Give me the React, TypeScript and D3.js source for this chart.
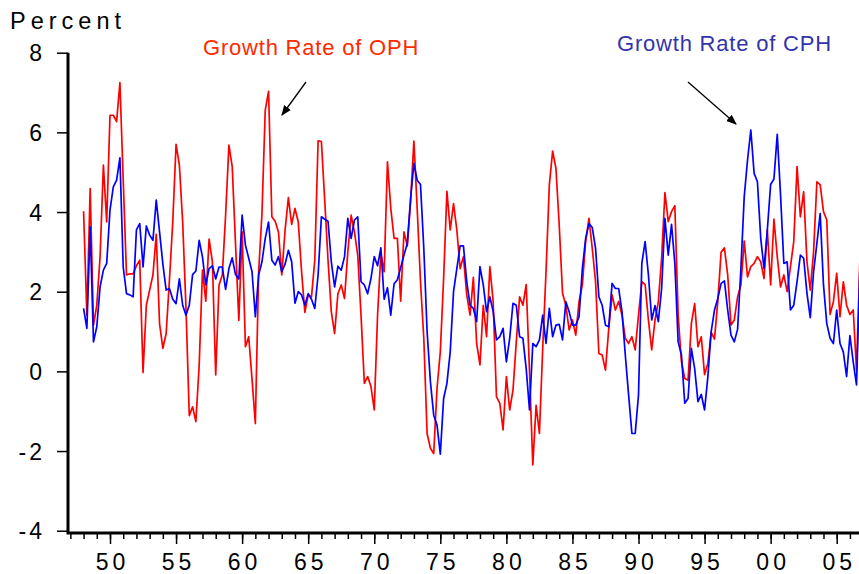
import React, { useEffect, useRef } from 'react';
import * as d3 from 'd3';

// quarterly growth rates, 1948Q1 onwards (percent)
const startYear = 1948;

const ophGrowth = [
  4.02, 1.41, 4.59, 1.16, 1.66, 2.88, 5.18, 3.75, 6.43, 6.43, 6.27, 7.25,
  4.8, 2.42, 2.45, 2.45, 2.65, 2.79, -0.03, 1.66, 2.04, 2.42, 3.44, 1.2,
  0.58, 0.95, 2.3, 3.75, 5.7, 5.18, 3.75, 1.6, -1.11, -0.89, -1.26, 0.16,
  2.54, 1.76, 3.32, 2.75, -0.09, 2.17, 2.42, 3.92, 5.68, 5.14, 3.2, 1.28,
  3.5, 0.62, 0.87, -0.2, -1.31, 2.5, 3.95, 6.56, 7.03, 3.88, 3.77, 3.5,
  2.42, 3.54, 4.36, 3.69, 4.09, 3.75, 2.5, 1.48, 1.92, 1.87, 2.8, 5.79,
  5.77, 4.3, 2.8, 1.5, 0.95, 1.95, 2.17, 1.83, 3.0, 3.92, 3.5, 2.92,
  1.4, -0.3, -0.13, -0.38, -0.97, 1.41, 2.96, 2.5, 5.26, 4.1, 3.34, 3.34,
  1.76, 3.5, 3.15, 4.26, 5.78, 4.09, 2.25, 0.83, -1.56, -1.93, -2.06, -0.43,
  0.49, 2.33, 4.52, 3.55, 4.21, 3.55, 2.58, 2.88, 1.92, 1.41, 2.36, 0.7,
  0.16, 1.66, 0.87, 2.63, 1.75, -0.64, -0.8, -1.47, -0.13, -0.97, -0.47, 0.74,
  1.87, 1.66, 2.18, 0.0, -2.35, -0.85, -1.56, 0.58, 2.5, 4.68, 5.53, 5.1,
  3.67, 1.96, 1.66, 1.04, 1.29, 0.91, 1.75, 2.17, 3.26, 3.84, 3.09, 2.25,
  0.45, 0.41, 0.03, 1.08, 1.92, 1.54, 1.76, 1.41, 0.83, 0.7, 0.87, 0.54,
  1.41, 2.25, 2.18, 1.29, 0.54, 1.29, 1.75, 2.84, 4.49, 3.76, 4.01, 4.16,
  1.41, 0.24, -0.18, -0.22, 1.2, 1.7, 0.62, 0.87, -0.08, 0.2, 0.98, 0.81,
  1.75, 2.99, 3.1, 2.42, 1.16, 1.29, 1.87, 2.17, 3.27, 2.37, 2.63, 2.71,
  2.88, 2.75, 2.33, 3.55, 2.17, 3.82, 2.88, 2.12, 2.42, 2.0, 2.63, 3.26,
  5.14, 3.88, 4.51, 2.75, 2.04, 3.0, 4.76, 4.68, 4.01, 3.8, 1.43, 1.75,
  2.46, 1.37, 2.25, 1.66, 1.43, 1.54, 0.03, 2.75
];

const cphGrowth = [
  1.58, 1.08, 3.63, 0.74, 1.12, 2.12, 2.54, 2.71, 4.05, 4.63, 4.8, 5.36,
  2.62, 1.95, 1.92, 1.87, 3.55, 3.71, 2.62, 3.65, 3.42, 3.29, 4.3, 3.5,
  2.7, 2.04, 2.08, 1.81, 1.7, 2.32, 1.66, 1.41, 1.66, 2.43, 2.52, 3.29,
  2.87, 2.17, 2.58, 2.65, 2.32, 2.62, 2.62, 2.06, 2.58, 2.85, 2.43, 2.32,
  3.92, 3.17, 2.84, 2.5, 1.37, 2.42, 2.75, 3.34, 3.75, 2.79, 2.67, 2.88,
  2.5, 2.69, 3.04, 2.75, 1.71, 2.0, 1.92, 1.66, 1.95, 1.81, 1.58, 2.42,
  3.88, 3.82, 3.77, 2.75, 2.12, 2.64, 2.54, 2.88, 3.84, 3.34, 3.8, 3.88,
  2.25, 2.17, 1.95, 2.33, 2.88, 2.65, 3.1, 1.81, 2.1, 1.41, 2.2, 2.3,
  2.6, 2.92, 3.21, 4.34, 5.22, 4.8, 4.69, 3.09, 1.0, -0.26, -1.1, -1.35,
  -2.08, -0.68, -0.3, 0.49, 2.0, 2.58, 3.15, 3.15, 2.25, 1.66, 1.58, 1.25,
  2.63, 2.17, 1.5, 1.87, 1.5, 0.79, 0.87, 1.08, 0.24, 0.83, 1.71, 1.66,
  0.87, 0.83, 0.07, -0.97, 0.7, 0.62, 0.79, 1.41, 0.7, 1.58, 0.87, 1.16,
  1.18, 0.79, 1.75, 1.5, 1.16, 1.16, 1.37, 2.58, 3.34, 3.71, 3.61, 3.09,
  1.87, 1.66, 1.16, 1.12, 2.21, 2.08, 2.08, 1.5, 0.41, -0.59, -1.56, -1.56,
  -0.59, 2.71, 3.26, 2.42, 1.29, 1.65, 1.25, 2.08, 3.84, 2.92, 3.69, 2.71,
  0.74, 0.41, -0.8, -0.68, 0.58, 0.07, -0.76, -0.58, -0.97, -0.13, 1.0, 1.54,
  1.83, 2.21, 2.27, 1.54, 0.91, 0.74, 1.06, 2.58, 4.38, 5.3, 6.06, 4.97,
  4.76, 3.34, 2.58, 3.55, 4.69, 4.83, 5.95, 4.43, 2.71, 2.75, 1.54, 1.66,
  2.25, 2.92, 2.84, 1.96, 1.35, 2.5, 3.21, 3.96, 2.17, 1.2, 0.83, 0.7,
  1.54, 0.7, 0.49, -0.13, 0.9, 0.24, -0.34, 2.5
];

const yTicks = [-4, -2, 0, 2, 4, 6, 8];
const xMajorTicks = [1950, 1955, 1960, 1965, 1970, 1975, 1980, 1985, 1990, 1995, 2000, 2005];
const xMinorTicks = d3.range(1947, 2007);

const font = '"Liberation Sans", Arial, Helvetica, sans-serif';

export default function App() {
  const ref = useRef<SVGSVGElement>(null);

  useEffect(() => {
    const width = 859;
    const left = 68;
    const bottom = 533;

    const svg = d3.select(ref.current);
    svg.selectAll('*').remove();

    const x = d3.scaleLinear().domain([1950, 2005]).range([110, 836.7]);
    const y = d3.scaleLinear().domain([-4, 8]).range([530.7, 52.7]);

    svg.append('defs').append('clipPath').attr('id', 'plot-clip')
      .append('rect')
      .attr('x', left).attr('y', 0)
      .attr('width', width - left).attr('height', bottom);

    const line = d3.line<number>()
      .x((d, i) => x(startYear + i / 4))
      .y(d => y(d));

    const plot = svg.append('g').attr('clip-path', 'url(#plot-clip)');

    plot.append('path')
      .attr('d', line(ophGrowth))
      .attr('fill', 'none')
      .attr('stroke', '#ff0000')
      .attr('stroke-width', 1.7)
      .attr('stroke-linejoin', 'round');

    plot.append('path')
      .attr('d', line(cphGrowth))
      .attr('fill', 'none')
      .attr('stroke', '#0000ff')
      .attr('stroke-width', 1.7)
      .attr('stroke-linejoin', 'round');

    // y axis
    const yAxis = svg.append('g')
      .attr('transform', `translate(${left},0)`)
      .call(d3.axisLeft(y).tickValues(yTicks).tickSize(11).tickSizeOuter(0).tickPadding(12)
        .tickFormat(d => String(d)));
    yAxis.select('.domain').remove();
    yAxis.selectAll('.tick line').attr('stroke', '#000').attr('stroke-width', 1.5);
    yAxis.selectAll('.tick text')
      .attr('font-family', font)
      .attr('font-size', 23)
      .attr('fill', '#000')
      .attr('letter-spacing', 3)
      .attr('dy', '0.36em');

    // x axis, minor then major ticks
    const xMinor = svg.append('g')
      .attr('transform', `translate(0,${bottom})`)
      .call(d3.axisBottom(x).tickValues(xMinorTicks).tickSize(6).tickSizeOuter(0).tickFormat(() => ''));
    xMinor.select('.domain').remove();
    xMinor.selectAll('.tick line').attr('stroke', '#000').attr('stroke-width', 1.5);

    const xAxis = svg.append('g')
      .attr('transform', `translate(0,${bottom})`)
      .call(d3.axisBottom(x).tickValues(xMajorTicks).tickSize(11).tickSizeOuter(0).tickPadding(8)
        .tickFormat(d => String((d as number) % 100).padStart(2, '0')));
    xAxis.select('.domain').remove();
    xAxis.selectAll('.tick line').attr('stroke', '#000').attr('stroke-width', 1.5);
    xAxis.selectAll('.tick text')
      .attr('font-family', font)
      .attr('font-size', 23)
      .attr('fill', '#000')
      .attr('letter-spacing', 4)
      .attr('dx', 2)
      .attr('dy', '0.8em');

    // axis frame
    svg.append('path')
      .attr('d', `M${left},${y(8)}V${bottom}H${width}`)
      .attr('fill', 'none')
      .attr('stroke', '#000')
      .attr('stroke-width', 3);

    svg.append('text')
      .attr('x', 10)
      .attr('y', 29)
      .attr('font-family', font)
      .attr('font-size', 23.5)
      .attr('letter-spacing', 5)
      .attr('fill', '#000')
      .text('Percent');

    // annotations
    svg.append('defs').append('marker')
      .attr('id', 'arrow')
      .attr('viewBox', '0 0 10 10')
      .attr('refX', 9).attr('refY', 5)
      .attr('markerWidth', 8).attr('markerHeight', 8)
      .attr('orient', 'auto')
      .append('path')
      .attr('d', 'M0,1L10,5L0,9z')
      .attr('fill', '#000');

    svg.append('text')
      .attr('x', 203)
      .attr('y', 55)
      .attr('font-family', font)
      .attr('font-size', 22)
      .attr('letter-spacing', 0.8)
      .attr('fill', '#ff2a00')
      .text('Growth Rate of OPH');

    svg.append('line')
      .attr('x1', 306).attr('y1', 82)
      .attr('x2', 282).attr('y2', 115)
      .attr('stroke', '#000').attr('stroke-width', 1.3)
      .attr('marker-end', 'url(#arrow)');

    svg.append('text')
      .attr('x', 617)
      .attr('y', 51)
      .attr('font-family', font)
      .attr('font-size', 22)
      .attr('letter-spacing', 0.8)
      .attr('fill', '#3333aa')
      .text('Growth Rate of CPH');

    svg.append('line')
      .attr('x1', 688).attr('y1', 82)
      .attr('x2', 736).attr('y2', 124)
      .attr('stroke', '#000').attr('stroke-width', 1.3)
      .attr('marker-end', 'url(#arrow)');
  }, []);

  return (
    <svg
      ref={ref}
      width={859}
      height={574}
      style={{ position: 'absolute', left: 0, top: 0, display: 'block', background: '#fff' }}
    />
  );
}
